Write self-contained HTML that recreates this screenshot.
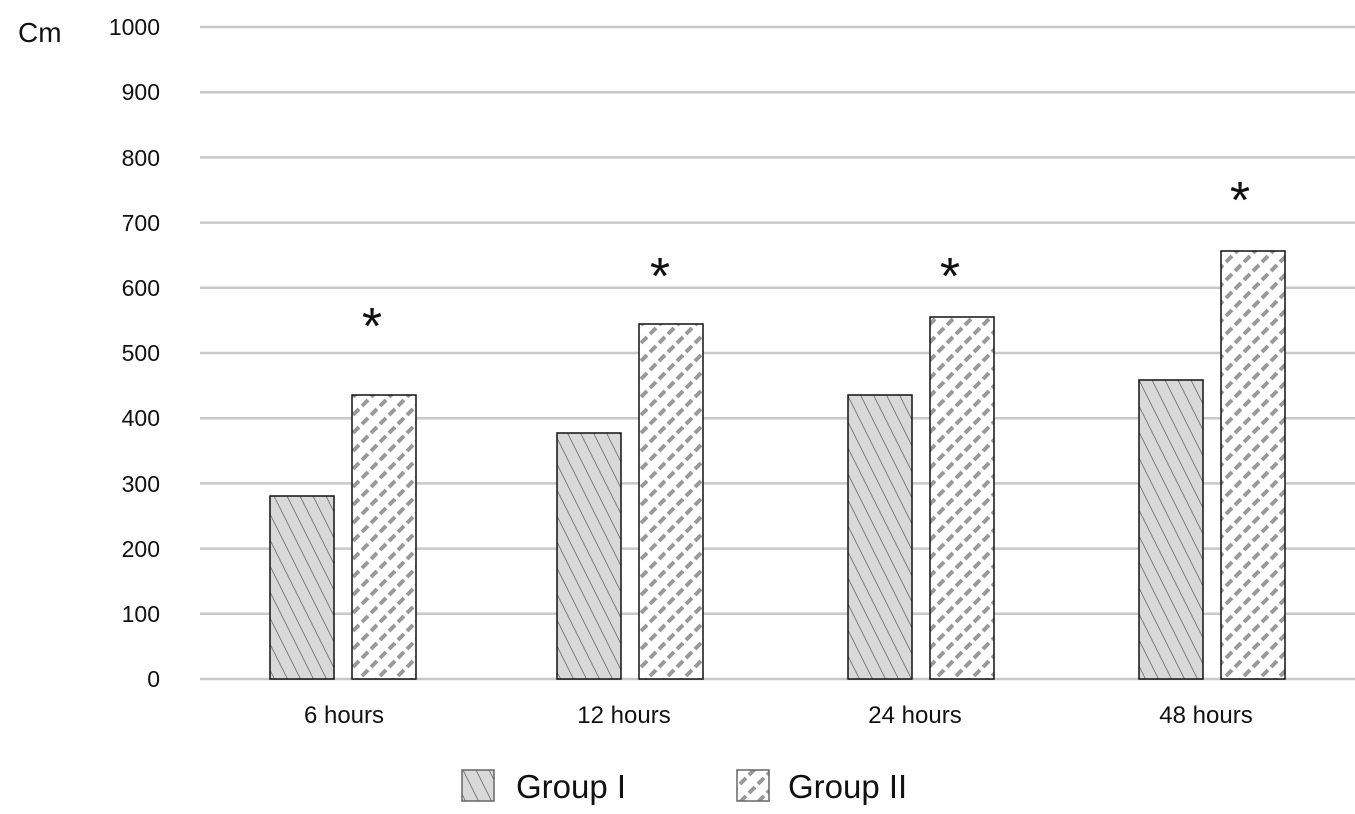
<!DOCTYPE html>
<html><head><meta charset="utf-8"><style>html,body{margin:0;padding:0;background:#fff}svg{display:block}</style></head>
<body>
<svg width="1355" height="814" xmlns="http://www.w3.org/2000/svg" font-family="Liberation Sans, sans-serif">
<defs>
<pattern id="p1" patternUnits="userSpaceOnUse" width="13" height="26">
<rect width="13" height="26" fill="#d9d9d9"/>
<path d="M0,0 L13,26 M-6.5,-13 L6.5,13 M6.5,13 L19.5,39 M-6.5,13 L6.5,39 M6.5,-13 L19.5,13" stroke="#666" stroke-width="0.8"/>
</pattern>
<pattern id="p2" patternUnits="userSpaceOnUse" width="18" height="18">
<rect width="18" height="18" fill="#fff"/>
<path d="M2,10 L8,4 M11,19 L17,13 M11,1 L17,-5" stroke="#999" stroke-width="4"/>
</pattern>
</defs>
<g stroke="#c8c8c8" stroke-width="2.5">
<line x1="200" x2="1355" y1="27" y2="27"/><line x1="200" x2="1355" y1="92.2" y2="92.2"/>
<line x1="200" x2="1355" y1="157.4" y2="157.4"/><line x1="200" x2="1355" y1="222.6" y2="222.6"/>
<line x1="200" x2="1355" y1="287.8" y2="287.8"/><line x1="200" x2="1355" y1="353" y2="353"/>
<line x1="200" x2="1355" y1="418.2" y2="418.2"/><line x1="200" x2="1355" y1="483.4" y2="483.4"/>
<line x1="200" x2="1355" y1="548.6" y2="548.6"/><line x1="200" x2="1355" y1="613.8" y2="613.8"/>
<line x1="200" x2="1355" y1="679" y2="679"/>
</g>
<g font-size="23" fill="#111" text-anchor="end">
<text x="160" y="35">1000</text><text x="160" y="100">900</text><text x="160" y="166">800</text>
<text x="160" y="231">700</text><text x="160" y="296">600</text><text x="160" y="361">500</text>
<text x="160" y="426">400</text><text x="160" y="492">300</text><text x="160" y="557">200</text>
<text x="160" y="622">100</text><text x="160" y="687">0</text>
</g>
<text x="18" y="42" font-size="28" fill="#111">Cm</text>
<g stroke="#111" stroke-width="1.5">
<rect x="270" y="496" width="64" height="183" fill="url(#p1)"/>
<rect x="352" y="395" width="64" height="284" fill="url(#p2)"/>
<rect x="557" y="433" width="64" height="246" fill="url(#p1)"/>
<rect x="639" y="324" width="64" height="355" fill="url(#p2)"/>
<rect x="848" y="395" width="64" height="284" fill="url(#p1)"/>
<rect x="930" y="317" width="64" height="362" fill="url(#p2)"/>
<rect x="1139" y="380" width="64" height="299" fill="url(#p1)"/>
<rect x="1221" y="251" width="64" height="428" fill="url(#p2)"/>
</g>
<g font-size="52" fill="#111" text-anchor="middle">
<text x="372" y="344">*</text><text x="660" y="294">*</text><text x="950" y="294">*</text><text x="1240" y="218">*</text>
</g>
<g font-size="24" fill="#111" text-anchor="middle">
<text x="344" y="723">6 hours</text><text x="624" y="723">12 hours</text><text x="915" y="723">24 hours</text><text x="1206" y="723">48 hours</text>
</g>
<rect x="462" y="770" width="32" height="31" fill="url(#p1)" stroke="#666" stroke-width="1.5"/>
<rect x="737" y="770" width="32" height="31" fill="url(#p2)" stroke="#666" stroke-width="1.5"/>
<g font-size="33" fill="#111">
<text x="516" y="798">Group I</text><text x="788" y="798">Group II</text>
</g>
</svg>
</body></html>
